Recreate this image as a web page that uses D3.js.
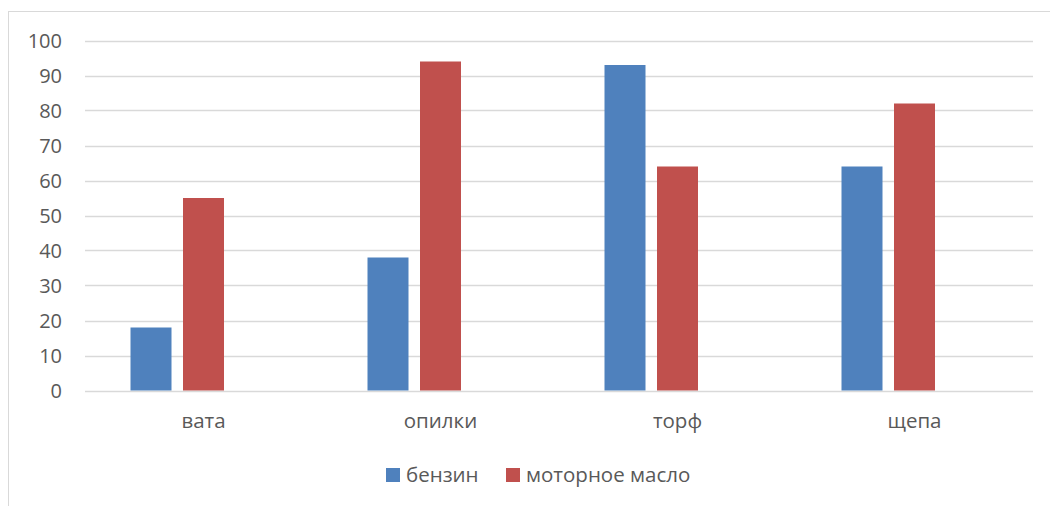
<!DOCTYPE html>
<html lang="ru">
<head>
<meta charset="UTF-8">
<title>chart</title>
<script src="https://cdn.jsdelivr.net/npm/d3@7"></script>
<style>
body{margin:0;background:#fff;}
text{font-family:"Open Sans",sans-serif;fill:#595959;}
</style>
</head>
<body>
<script>
// данные
var categories = ["вата","опилки","торф","щепа"];
var seriesNames = ["бензин","моторное масло"];
var benzin = [18,38,93,64];
var maslo = [55,94,64,82];
var slots = [0,1,2]; // третий ряд пустой, как в исходнике
var yTicks = [0,10,20,30,40,50,60,70,80,90,100];
var colors = ["#4f81bd","#c0504d"];

var width = 1050, height = 506;
var plot = {left:85, right:1033, top:40.5, bottom:390.5};

var svg = d3.select("body").append("svg").attr("width",width).attr("height",height);

// рамка
svg.append("rect").attr("x",8.5).attr("y",11.5).attr("width",1060).attr("height",520)
	.attr("fill","none").attr("stroke","#d9d9d9").attr("stroke-width",1);

var y = d3.scaleLinear().domain([0,100]).range([plot.bottom,plot.top]);
var x0 = d3.scaleBand().domain(categories).range([plot.left,plot.right]);
var grp = 146;
var x1 = d3.scaleBand().domain(slots).range([(x0.bandwidth()-grp)/2,(x0.bandwidth()+grp)/2]).paddingInner(0.219);

// сетка
svg.append("g").selectAll("line").data(yTicks).enter().append("line")
	.attr("x1",plot.left).attr("x2",plot.right)
	.attr("y1",function(d){return Math.round(y(d))+0.5;})
	.attr("y2",function(d){return Math.round(y(d))+0.5;})
	.attr("stroke","#d9d9d9").attr("stroke-width",1.3);

// подписи оси y
svg.append("g").selectAll("text").data(yTicks).enter().append("text")
	.attr("x",62).attr("y",function(d){return y(d);})
	.attr("dy","0.36em").attr("text-anchor","end").attr("font-size",20)
	.text(function(d){return d;});

// столбцы
var data = [benzin,maslo];
var g = svg.append("g").selectAll("g").data(categories).enter().append("g")
	.attr("transform",function(d){return "translate("+x0(d)+",0)";});
g.selectAll("rect").data(function(d,i){return data.map(function(s,k){return {k:k,v:s[i]};});})
	.enter().append("rect")
	.attr("x",function(d){return x1(d.k);})
	.attr("width",x1.bandwidth())
	.attr("y",function(d){return y(d.v);})
	.attr("height",function(d){return y(0)-y(d.v);})
	.attr("fill",function(d){return colors[d.k];});

// подписи категорий
svg.append("g").selectAll("text").data(categories).enter().append("text")
	.attr("x",function(d){return x0(d)+x0.bandwidth()/2;})
	.attr("y",428).attr("text-anchor","middle").attr("font-size",20.5)
	.text(function(d){return d;});

// легенда
var legX = [386,506];
var leg = svg.append("g").selectAll("g").data(seriesNames).enter().append("g")
	.attr("transform",function(d,i){return "translate("+legX[i]+",468)";});
leg.append("rect").attr("width",14).attr("height",14).attr("fill",function(d,i){return colors[i];});
leg.append("text").attr("x",20).attr("y",13.5).attr("font-size",20.5).text(function(d){return d;});
</script>
</body>
</html>
